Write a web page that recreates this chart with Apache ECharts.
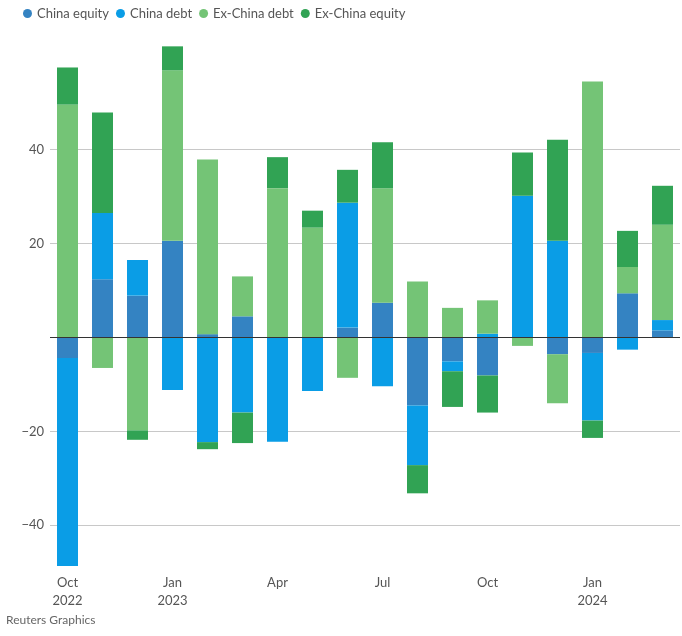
<!DOCTYPE html>
<html><head><meta charset="utf-8">
<script src="https://cdn.jsdelivr.net/npm/echarts@6/dist/echarts.min.js"></script>
<style>html,body{margin:0;padding:0;background:#fff}#c{width:682px;height:636px}</style>
</head><body><div id="c"></div>
<script>
const months = ['Oct\n2022','Nov','Dec','Jan\n2023','Feb','Mar','Apr','May','Jun','Jul','Aug','Sep','Oct','Nov','Dec','Jan\n2024','Feb','Mar'];
const chinaEquity   = [-4.4, 12.4,  8.9, 20.6,  0.7,  4.5,  0.0,  0.0,  2.1,  7.4, -14.5, -5.1, -8.1,  0.0, -3.6, -3.3,  9.4,  1.5];
const chinaDebt     = [-44.3, 14.1, 7.6, -11.2, -22.3, -16.0, -22.2, -11.4, 26.6, -10.4, -12.7, -2.1, 0.8, 30.2, 20.6, -14.4, -2.6, 2.2];
const exChinaDebt   = [49.6, -6.5, -19.8, 36.3, 37.2,  8.5, 31.8, 23.4, -8.6, 24.4, 11.9,  6.3,  7.1, -1.8, -10.4, 54.5,  5.6, 20.3];
const exChinaEquity = [7.9, 21.4, -2.0,  5.1, -1.5, -6.5,  6.6,  3.6,  7.0,  9.8, -6.0, -7.6, -7.9,  9.2, 21.5, -3.7,  7.7,  8.3];
const yTicks = [-40, -20, 20, 40];
const gridTicks = [-40, -20, 0, 20, 40];
const seriesNames = ['China equity', 'China debt', 'Ex-China debt', 'Ex-China equity'];
const colors = ['#3483c2', '#0a9de6', '#74c476', '#31a354'];

const chart = echarts.init(document.getElementById('c'));
const font = 'Lato, "Noto Sans", sans-serif';
const dataArr = [chinaEquity, chinaDebt, exChinaDebt, exChinaEquity];
const series = dataArr.map((d, i) => ({
  name: seriesNames[i], type: 'bar', stack: 'all', data: d,
  barWidth: '60%', itemStyle: { color: colors[i] }, emphasis: { disabled: true }
}));
series[3].markLine = {
  silent: true, symbol: 'none', label: { show: false },
  lineStyle: { color: '#333', width: 1, type: 'solid' },
  data: [{ yAxis: 0 }], animation: false
};
chart.setOption({
  animation: false,
  color: colors,
  textStyle: { fontFamily: font },
  legend: {
    left: 23, top: 7, padding: 0, icon: 'circle', itemWidth: 9, itemHeight: 9, itemGap: 7,
    textStyle: { color: '#555', fontSize: 13, fontFamily: font },
    data: seriesNames
  },
  grid: { left: 50, right: 2, top: 44, bottom: 68.5 },
  xAxis: {
    type: 'category', data: months,
    axisLine: { show: false, onZero: false },
    axisTick: { show: false },
    axisLabel: { interval: 2, color: '#555', fontSize: 13, lineHeight: 18, margin: 6, fontFamily: font }
  },
  yAxis: {
    type: 'value', min: -49, max: 62.5,
    axisLine: { show: false }, axisTick: { show: false, customValues: gridTicks },
    axisLabel: { customValues: yTicks, color: '#555', fontSize: 13, margin: 6, fontFamily: font,
      formatter: v => String(v).replace('-', '\u2212') },
    splitLine: { show: true, lineStyle: { color: '#c8c8c8', width: 1 } }
  },
  graphic: [{
    type: 'text', left: 6, top: 614,
    style: { text: 'Reuters Graphics', fill: '#666', fontSize: 12, fontFamily: font }
  }],
  series: series
});
</script></body></html>
